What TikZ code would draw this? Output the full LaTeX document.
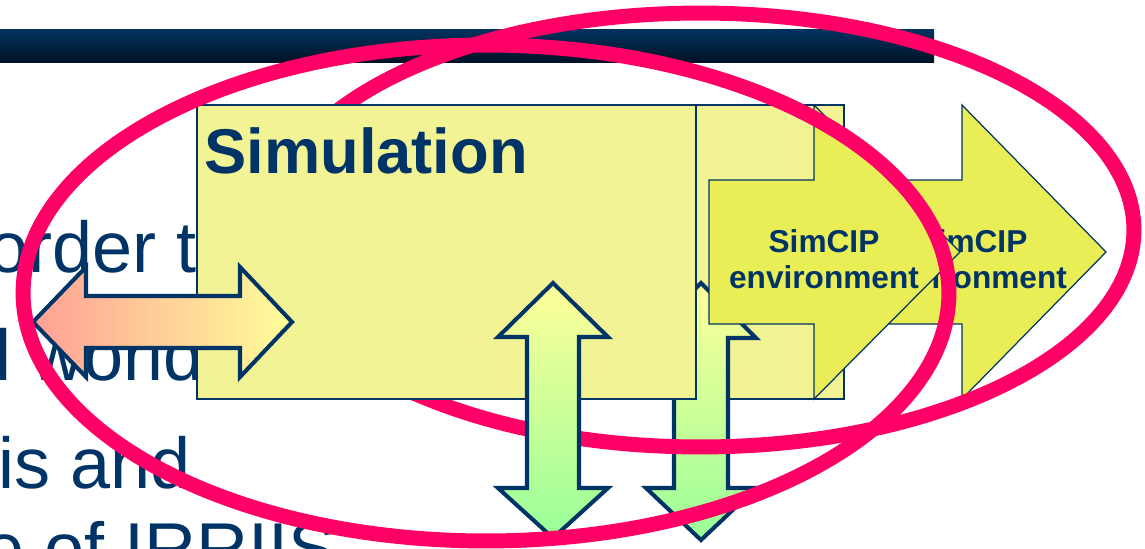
\documentclass[tikz,border=0pt]{standalone}
\usepackage{fontspec}
\setmainfont{Liberation Sans}
\definecolor{textblue}{RGB}{0,51,102}
\definecolor{bartop}{RGB}{3,50,96}
\definecolor{barbot}{RGB}{0,18,38}
\definecolor{simfill}{RGB}{242,243,148}
\definecolor{envfill}{RGB}{233,238,86}
\definecolor{ringred}{RGB}{255,0,102}
\definecolor{salmon}{RGB}{255,160,150}
\definecolor{paleyel}{RGB}{255,255,153}
\definecolor{palegreen}{RGB}{153,255,153}
\begin{document}
\begin{tikzpicture}[x=0.02cm,y=-0.02cm,
    box/.style={fill=simfill,draw=textblue,line width=0.7pt},
    fat/.style={draw=textblue,line width=2.3pt},
    envarrow/.style={fill=envfill,draw=textblue,line width=0.7pt},
    envtext/.style={text=textblue,align=center,inner sep=0pt,font=\fontsize{18}{20.5}\selectfont\bfseries},
    bodytext/.style={text=textblue,anchor=base west,inner sep=0pt,font=\fontsize{41}{49}\selectfont},
    ring/.style={draw=ringred,line width=8.5pt}]
	\useasboundingbox (0,0) rectangle (1145,548);
	\shade[top color=bartop,bottom color=barbot] (0,29) rectangle (934,62);
	\node[bodytext] (lineA) at (-12,272) {order t};
	\node[bodytext] (lineB) at (-5,380) {l world};
	\node[bodytext] (lineC) at (-2,488) {is and};
	\node[bodytext] (lineD) at (-16,573) {e of IRRIIS};

	% second frame, behind
	\draw[box] (347,105) rectangle (844,399);
	\draw[fat,top color=paleyel,bottom color=palegreen] (701,283) -- (756,338) -- (728,338) -- (728,488) -- (756,488) -- (701,540)
	    -- (646,488) -- (674,488) -- (674,338) -- (646,338) -- cycle;
	\draw[envarrow] (857,180) -- (962,180) -- (962,105) -- (1106,252) -- (962,399) -- (962,324) -- (857,324) -- cycle;
	\node[envtext] (envB) at (972,259) {SimCIP\\environment};
	\draw[ring] (700,230) ellipse [x radius=8.68cm, y radius=4.34cm];

	% first frame, in front
	\draw[box] (197,105) rectangle (696,399);
	\node[anchor=base west,inner sep=0pt,text=textblue,font=\fontsize{36}{43}\selectfont\bfseries] (simA) at (204,173) {Simulation};
	\draw[fat,left color=salmon,right color=paleyel] (33,322) -- (86,267) -- (86,296) -- (240,296) -- (240,267) -- (292,322)
	    -- (240,377) -- (240,348) -- (86,348) -- (86,377) -- cycle;
	\draw[fat,top color=paleyel,bottom color=palegreen] (553,283) -- (608,337) -- (579,337) -- (579,488) -- (608,488) -- (553,538)
	    -- (498,488) -- (527,488) -- (527,337) -- (498,337) -- cycle;
	\draw[envarrow] (709,180) -- (814,180) -- (814,105) -- (960,252) -- (814,399) -- (814,324) -- (709,324) -- cycle;
	\node[envtext] (envA) at (824,259) {SimCIP\\environment};
	\draw[ring] (486,293) ellipse [x radius=9.26cm, y radius=4.96cm];
\end{tikzpicture}
\end{document}
